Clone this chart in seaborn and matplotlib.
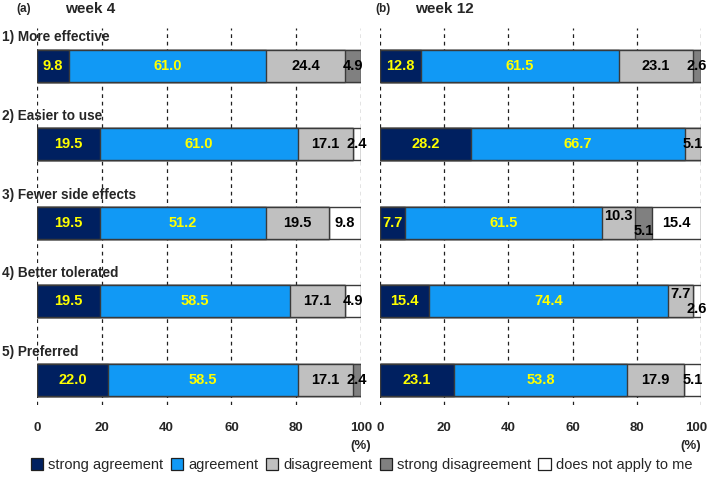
import numpy as np
import pandas as pd
import matplotlib
matplotlib.use("Agg")
import matplotlib.pyplot as plt
import matplotlib.transforms as mtransforms
from matplotlib.patches import Patch
import seaborn as sns

# ==========================================
# Data
# ==========================================

items = ["1) More effective", "2) Easier to use", "3) Fewer side effects",
         "4) Better tolerated", "5) Preferred"]
responses = ["strong agreement", "agreement", "disagreement",
             "strong disagreement", "does not apply to me"]

# rows = items, columns = responses (%)
week4 = [
    [9.8, 61.0, 24.4, 4.9, 0.0],
    [19.5, 61.0, 17.1, 0.0, 2.4],
    [19.5, 51.2, 19.5, 0.0, 9.8],
    [19.5, 58.5, 17.1, 0.0, 4.9],
    [22.0, 58.5, 17.1, 2.4, 0.0],
]
week12 = [
    [12.8, 61.5, 23.1, 2.6, 0.0],
    [28.2, 66.7, 5.1, 0.0, 0.0],
    [7.7, 61.5, 10.3, 5.1, 15.4],
    [15.4, 74.4, 7.7, 0.0, 2.6],
    [23.1, 53.8, 17.9, 0.0, 5.1],
]

colors = ["#002060", "#1199f5", "#c0c0c0", "#808080", "#ffffff"]
text_colors = ["#ffff00", "#ffff00", "black", "black", "black"]

# ==========================================
# Style
# ==========================================

sns.set_style("white")
plt.rcParams["font.family"] = ["Liberation Sans", "DejaVu Sans"]

fig = plt.figure(figsize=(7.09, 4.80), dpi=100)
ax_a = fig.add_axes([37 / 709, 1 - 405 / 480, 324 / 709, 377 / 480])
ax_b = fig.add_axes([380 / 709, 1 - 405 / 480, 321 / 709, 377 / 480])


def draw_panel(ax, values, show_labels, right_edge):
    arr = np.array(values)
    cum = np.cumsum(arr, axis=1)
    ids = [str(i) for i in range(len(items))]
    # draw cumulative bars from the last response back to the first
    for j in range(len(responses) - 1, -1, -1):
        df = pd.DataFrame({"item": ids, "value": cum[:, j]})
        sns.barplot(data=df, x="value", y="item", orient="h", color=colors[j],
                    width=0.41, edgecolor="#3a3a3a", linewidth=1.0,
                    saturation=1, ax=ax)
    # value labels
    for i in range(len(items)):
        prev = None
        for j in range(len(responses)):
            v = arr[i, j]
            if v <= 0:
                continue
            xc = cum[i, j] - v / 2
            dy = 0.0
            if j >= 2 and prev is not None and v < 12 and prev[1] < 12:
                # stagger two narrow neighbours
                prev[0].set_y(i - 0.09)
                dy = 0.10
            t = ax.text(xc, i + dy, f"{v:.1f}", ha="center", va="center",
                        fontsize=10.5, fontweight="bold", color=text_colors[j])
            prev = (t, v)
    ax.set_xlim(0, 100)
    ax.set_ylim(4.32, -0.48)
    ax.set_xticks([0, 20, 40, 60, 80, 100])
    ax.set_yticks([])
    ax.set_xlabel("")
    ax.set_ylabel("")
    ax.tick_params(axis="x", length=0, pad=12, labelsize=9.5)
    labels = ax.get_xticklabels()
    for lab in labels:
        lab.set_fontweight("bold")
    if right_edge:
        shift = mtransforms.ScaledTranslation(-5 / 100, 0, fig.dpi_scale_trans)
        labels[-1].set_transform(labels[-1].get_transform() + shift)
    for s in ax.spines.values():
        s.set_visible(False)
    ax.grid(axis="x", color="#202020", linestyle=(0, (3, 3)), linewidth=0.9)
    ax.grid(axis="y", visible=False)
    ax.set_axisbelow(True)
    if right_edge:
        ax.text(1.0, -0.11, "(%)", transform=ax.transAxes, ha="right",
                va="center", fontsize=9.5, fontweight="bold")
    else:
        ax.text(1.0, -0.11, "(%)", transform=ax.transAxes, ha="center",
                va="center", fontsize=9.5, fontweight="bold")
    if show_labels:
        for i, name in enumerate(items):
            ax.text(-0.108, i - 0.36, name, transform=ax.get_yaxis_transform(),
                    ha="left", va="center", fontsize=9.8, fontweight="bold")


draw_panel(ax_a, week4, True, False)
draw_panel(ax_b, week12, False, True)

# panel titles
fig.text(16 / 709, 1 - 9 / 480, "(a)", fontsize=8.5, fontweight="bold", va="center")
fig.text(65 / 709, 1 - 9 / 480, "week 4", fontsize=11, fontweight="bold", va="center")
fig.text(375 / 709, 1 - 9 / 480, "(b)", fontsize=8.5, fontweight="bold", va="center")
fig.text(415 / 709, 1 - 9 / 480, "week 12", fontsize=11, fontweight="bold", va="center")

# legend
handles = [Patch(facecolor=c, edgecolor="#202020", linewidth=0.9) for c in colors]
fig.legend(handles, responses, loc="center", bbox_to_anchor=(0.51, 1 - 465 / 480),
           ncol=5, frameon=False, handlelength=0.85, handleheight=0.85,
           handletextpad=0.35, columnspacing=0.5, fontsize=10.5)

fig.savefig("out.png", dpi=100)
